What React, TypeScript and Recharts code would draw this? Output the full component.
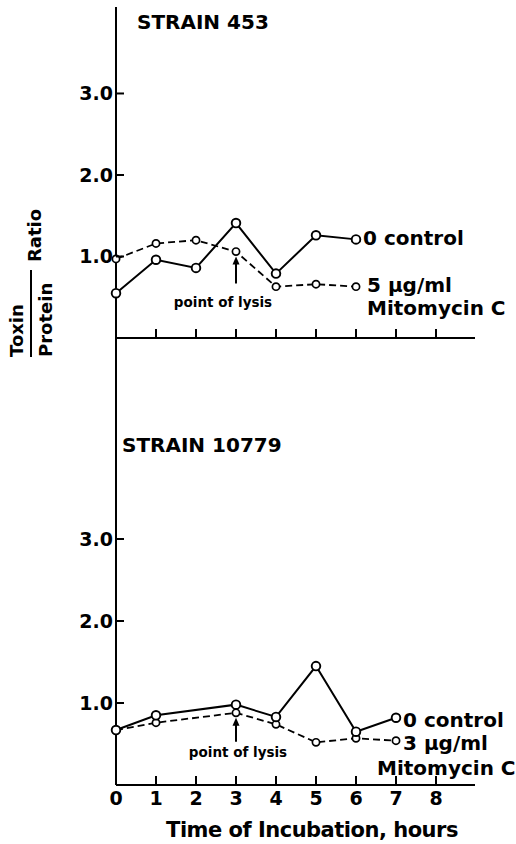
import { LineChart, Line, XAxis, YAxis } from 'recharts';

const hoursTop = [0, 1, 2, 3, 4, 5, 6];
const controlTop = [0.55, 0.96, 0.86, 1.41, 0.79, 1.26, 1.21];
const mitoTop = [0.97, 1.16, 1.2, 1.06, 0.63, 0.66, 0.63];

const hoursBottom = [0, 1, 3, 4, 5, 6, 7];
const controlBottom = [0.67, 0.85, 0.98, 0.83, 1.45, 0.65, 0.82];
const mitoBottom = [0.67, 0.76, 0.88, 0.74, 0.52, 0.57, 0.54];

const hourTicks = [0, 1, 2, 3, 4, 5, 6, 7, 8];
const ratioTicks = [1, 2, 3];

const FONT = '"DejaVu Sans", "Liberation Sans", sans-serif';

const toRows = (hours: number[], vals: number[]) =>
  hours.map((h, i) => ({ hour: h, ratio: vals[i] }));

// x ticks point up into the plot, labels only on the lower panel
const XTick = ({ x, y, payload, showLabel }: any) => (
  <g>
    {payload.value > 0 && (
      <line x1={x} x2={x} y1={y} y2={y - 9} stroke="#000" strokeWidth={2} />
    )}
    {showLabel && (
      <text x={x} y={y + 20} textAnchor="middle" fontSize={19} fontWeight={700} fill="#000" fontFamily={FONT}>
        {payload.value}
      </text>
    )}
  </g>
);

// y ticks also point inward
const YTick = ({ x, y, payload }: any) => (
  <g>
    <line x1={x} x2={x + 8} y1={y} y2={y} stroke="#000" strokeWidth={2} />
    <text x={x - 3} y={y + 7} textAnchor="end" fontSize={19} fontWeight={700} fill="#000" fontFamily={FONT}>
      {payload.value.toFixed(1)}
    </text>
  </g>
);

interface PanelProps {
  top: number;
  height: number;
  mTop: number;
  mBottom: number;
  yMax: number;
  hours: number[];
  control: number[];
  mito: number[];
  dose: string;
  showXLabels: boolean;
  ctl: [number, number];
  doseOff: [number, number];
  mitoOff: [number, number];
  lysis: { tip: number; end: number; dx: number; dy: number };
}

const Panel = (p: PanelProps) => {
  const last = p.hours.length - 1;
  const lysisIdx = p.hours.indexOf(3);

  const controlDot = (d: any) => (
    <g key={`c${d.index}`}>
      <circle cx={d.cx} cy={d.cy} r={4.3} fill="#fff" stroke="#000" strokeWidth={1.9} />
      {d.index === last && (
        <text x={d.cx + p.ctl[0]} y={d.cy + p.ctl[1]} fontSize={20} fontWeight={700} fontFamily={FONT} fill="#000" stroke="none">
          0 control
        </text>
      )}
    </g>
  );

  const mitoDot = (d: any) => (
    <g key={`m${d.index}`}>
      <circle cx={d.cx} cy={d.cy} r={3.6} fill="#fff" stroke="#000" strokeWidth={1.7} strokeDasharray="none" />
      {d.index === last && (
        <g fontSize={20} fontWeight={700} fontFamily={FONT} fill="#000" stroke="none">
          <text x={d.cx + p.doseOff[0]} y={d.cy + p.doseOff[1]}>{p.dose}</text>
          <text x={d.cx + p.mitoOff[0]} y={d.cy + p.mitoOff[1]}>Mitomycin C</text>
        </g>
      )}
      {d.index === lysisIdx && (
        <g>
          <line x1={d.cx} x2={d.cx} y1={d.cy + p.lysis.tip + 6} y2={d.cy + p.lysis.end} stroke="#000" strokeWidth={2} strokeDasharray="none" />
          <polygon
            points={`${d.cx},${d.cy + p.lysis.tip} ${d.cx - 3.5},${d.cy + p.lysis.tip + 8} ${d.cx + 3.5},${d.cy + p.lysis.tip + 8}`}
            fill="#000"
            stroke="none"
          />
          <text
            x={d.cx + p.lysis.dx}
            y={d.cy + p.lysis.dy}
            textAnchor="middle"
            fontSize={13.5}
            fontWeight={700}
            fontFamily={FONT}
            fill="#000"
            stroke="none"
          >
            point of lysis
          </text>
        </g>
      )}
    </g>
  );

  return (
    <div style={{ position: 'absolute', left: 0, top: p.top }}>
      <LineChart
        width={516}
        height={p.height}
        margin={{ top: p.mTop, right: 41, bottom: p.mBottom - 1, left: 115 }}
      >
        <XAxis
          dataKey="hour"
          type="number"
          domain={[0, 8.975]}
          ticks={hourTicks}
          height={1}
          tickSize={0}
          tickMargin={0}
          tickLine={false}
          axisLine={{ stroke: '#000', strokeWidth: 2 }}
          tick={<XTick showLabel={p.showXLabels} />}
          interval={0}
        />
        <YAxis
          type="number"
          domain={[0, p.yMax]}
          ticks={ratioTicks}
          width={1}
          tickSize={0}
          tickMargin={0}
          tickLine={false}
          axisLine={{ stroke: '#000', strokeWidth: 2 }}
          tick={<YTick />}
          interval={0}
        />
        <Line
          data={toRows(p.hours, p.mito)}
          dataKey="ratio"
          type="linear"
          stroke="#000"
          strokeWidth={1.8}
          strokeDasharray="7 4"
          dot={mitoDot}
          activeDot={false}
          isAnimationActive={false}
        />
        <Line
          data={toRows(p.hours, p.control)}
          dataKey="ratio"
          type="linear"
          stroke="#000"
          strokeWidth={2}
          dot={controlDot}
          activeDot={false}
          isAnimationActive={false}
        />
      </LineChart>
    </div>
  );
};

const App = () => (
  <div
    style={{
      position: 'absolute',
      left: 0,
      top: 0,
      width: 516,
      height: 844,
      background: '#fff',
      fontFamily: FONT,
      overflow: 'hidden',
    }}
  >
    <Panel
      top={0}
      height={360}
      mTop={7}
      mBottom={22}
      yMax={4.061}
      hours={hoursTop}
      control={controlTop}
      mito={mitoTop}
      dose="5 µg/ml"
      showXLabels={false}
      ctl={[7, 6]}
      doseOff={[11, 5]}
      mitoOff={[11, 28]}
      lysis={{ tip: 5, end: 32, dx: -13, dy: 55 }}
    />
    <Panel
      top={330}
      height={514}
      mTop={8}
      mBottom={59}
      yMax={5.451}
      hours={hoursBottom}
      control={controlBottom}
      mito={mitoBottom}
      dose="3 µg/ml"
      showXLabels={true}
      ctl={[7, 9]}
      doseOff={[7, 9]}
      mitoOff={[-19, 34]}
      lysis={{ tip: 5, end: 29, dx: 2, dy: 44 }}
    />
    <svg
      width={516}
      height={844}
      style={{ position: 'absolute', left: 0, top: 0, pointerEvents: 'none' }}
      fontFamily={FONT}
      fontWeight={700}
      fill="#000"
    >
      <text x={137} y={29} fontSize={20}>STRAIN 453</text>
      <text x={122} y={452} fontSize={20}>STRAIN 10779</text>
      <text transform="translate(23,357) rotate(-90)" fontSize={18}>Toxin</text>
      <line x1={31} x2={31} y1={270} y2={357} stroke="#000" strokeWidth={2} />
      <text transform="translate(52,357) rotate(-90)" fontSize={18}>Protein</text>
      <text transform="translate(41,262) rotate(-90)" fontSize={18}>Ratio</text>
      <text x={312} y={837} textAnchor="middle" fontSize={21} letterSpacing={-0.5}>
        Time of Incubation, hours
      </text>
    </svg>
  </div>
);

export default App;
